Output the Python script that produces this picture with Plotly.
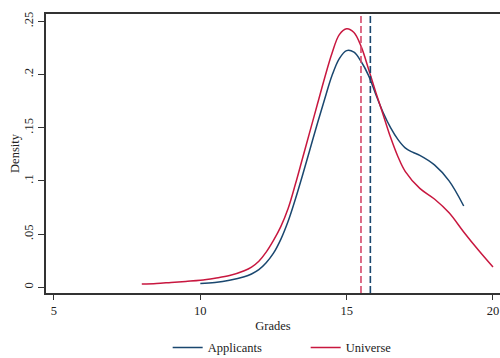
import plotly.graph_objects as go

# Kernel density estimates of grades
applicants_grade = [10.0, 10.5, 11.0, 11.5, 11.75, 12.0, 12.25, 12.5, 12.75, 13.0, 13.25, 13.5,
                    13.75, 14.0, 14.25, 14.5, 14.75, 15.0, 15.25, 15.5, 15.75, 16.0, 16.25,
                    16.5, 16.75, 17.0, 17.25, 17.5, 18.0, 18.5, 19.0]
applicants_density = [0.0035, 0.0045, 0.0065, 0.0098, 0.0125, 0.0165, 0.023, 0.032, 0.045, 0.062,
                      0.083, 0.106, 0.130, 0.154, 0.177, 0.199, 0.215, 0.2225, 0.221, 0.212,
                      0.199, 0.181, 0.164, 0.150, 0.139, 0.131, 0.127, 0.124, 0.115, 0.100,
                      0.0764]

universe_grade = [8.0, 8.5, 9.0, 9.5, 10.0, 10.5, 11.0, 11.5, 11.75, 12.0, 12.25, 12.5, 12.75,
                  13.0, 13.25, 13.5, 13.75, 14.0, 14.25, 14.5, 14.75, 15.0, 15.25, 15.5, 15.75,
                  16.0, 16.25, 16.5, 16.75, 17.0, 17.5, 18.0, 18.5, 19.0, 19.5, 20.0]
universe_density = [0.003, 0.0035, 0.0045, 0.0055, 0.0065, 0.0085, 0.0110, 0.0155, 0.019, 0.0245,
                    0.033, 0.044, 0.057, 0.074, 0.097, 0.122, 0.147, 0.172, 0.197, 0.220, 0.2375,
                    0.243, 0.2395, 0.226, 0.205, 0.183, 0.162, 0.141, 0.123, 0.109, 0.093, 0.083,
                    0.070, 0.052, 0.035, 0.019]

# Mean grade of each group
applicants_mean = 15.81
universe_mean = 15.49

x_ticks = [5, 10, 15, 20]
y_ticks = [0, 0.05, 0.1, 0.15, 0.2, 0.25]
y_tick_labels = ["0", ".05", ".1", ".15", ".2", ".25"]

NAVY = "#1a476f"
CRANBERRY = "#c8173f"
FONT = "Liberation Serif"

fig = go.Figure()
fig.add_trace(go.Scatter(x=applicants_grade, y=applicants_density, mode="lines",
                         name="Applicants", line=dict(color=NAVY, width=1.5, shape="spline", smoothing=1.0)))
fig.add_trace(go.Scatter(x=universe_grade, y=universe_density, mode="lines",
                         name="Universe", line=dict(color=CRANBERRY, width=1.5, shape="spline", smoothing=1.0)))

for xm, col in [(universe_mean, "#d4486a"), (applicants_mean, NAVY)]:
    fig.add_shape(type="line", xref="x", yref="paper", x0=xm, x1=xm, y0=0, y1=1,
                  line=dict(color=col, width=1.6, dash="7px,3px"), layer="above")

fig.update_layout(
    width=500, height=358,
    margin=dict(l=46, r=0, t=14, b=65, autoexpand=False),
    paper_bgcolor="white", plot_bgcolor="white",
    font=dict(family=FONT, size=12.5, color="#222"),
    showlegend=True,
    legend=dict(orientation="h", x=0.268, xanchor="left", y=-0.197, yanchor="middle",
                font=dict(family=FONT, size=12.5, color="#222"),
                entrywidth=93, entrywidthmode="pixels", traceorder="normal"),
    xaxis=dict(range=[4.727, 20.24], tickvals=x_ticks, ticks="outside", ticklen=5,
               tickcolor="#333", showgrid=False, zeroline=False, showline=True, mirror=True,
               linecolor="#333", linewidth=1.5,
               title=dict(text="Grades", standoff=4, font=dict(family=FONT, size=12.5))),
    yaxis=dict(range=[-0.0054, 0.2569], tickvals=y_ticks, ticktext=y_tick_labels,
               ticks="outside", ticklen=6, tickcolor="#333", tickangle=-90,
               showgrid=False, zeroline=False, showline=True, linecolor="#333", linewidth=1.5,
               title=dict(text="Density", standoff=0, font=dict(family=FONT, size=12.5))),
)

fig.write_html("out.html")
